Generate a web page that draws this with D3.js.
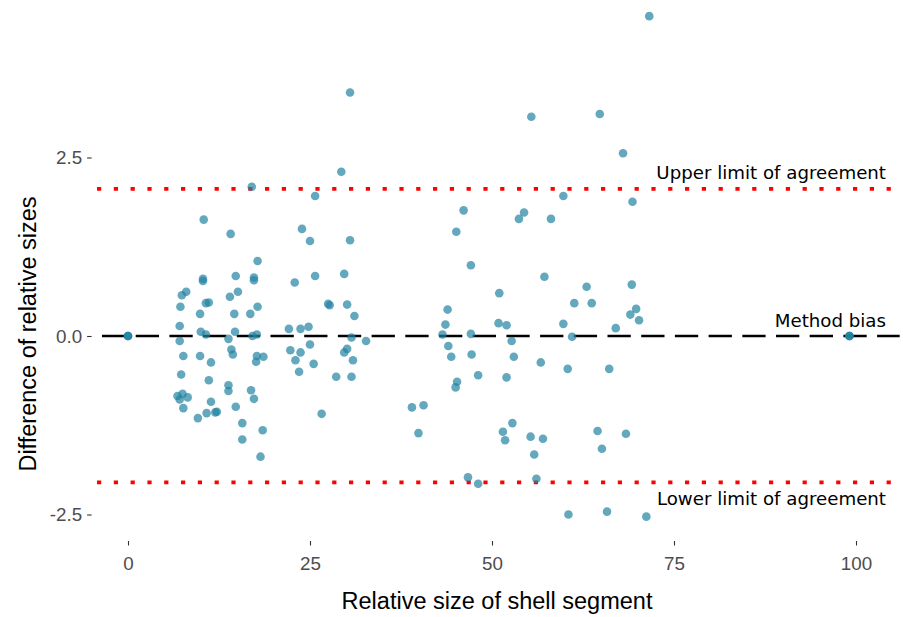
<!DOCTYPE html>
<html>
<head>
<meta charset="utf-8">
<script src="https://cdn.jsdelivr.net/npm/d3@7"></script>
<style>
  body { margin: 0; background: #fff; }
  svg { display: block; }
</style>
</head>
<body>
<svg id="chart" width="903" height="617"></svg>
<script>
// Relative size of shell segment (mean of two methods)
const xValues = [
  0, 0, 0,
  17.0, 10.4, 14.1, 17.8, 10.3, 10.3, 14.8, 17.3, 17.3, 22.9,
  8.0, 7.4, 14.0, 15.1, 7.2, 10.7, 11.1, 17.8, 9.9, 14.6, 16.8,
  7.1, 10.0, 10.7, 14.7, 17.1, 17.7, 13.8, 22.1, 23.7, 7.1,
  14.2, 14.4, 22.3, 7.6, 9.9, 11.4, 17.7, 18.6, 17.6, 23.0, 23.7, 23.5,
  7.3, 11.1, 13.8, 13.8, 16.9, 17.3, 6.8, 7.5, 7.1, 8.2, 7.6, 11.4,
  9.6, 10.8, 12.0, 12.2, 14.8, 15.7, 18.5, 15.7, 18.2,
  29.3, 25.7, 23.9, 25.0, 30.5, 25.7, 29.7, 27.5, 27.7, 30.1, 31.1, 24.8,
  30.7, 32.7, 25.0, 25.5, 29.7, 30.1, 30.9, 28.6, 30.7, 26.6, 30.5,
  55.4, 59.8, 46.1, 54.4, 53.7, 58.1, 45.1, 47.1, 57.2, 51.0, 61.3, 43.9,
  43.6, 50.9, 52.0, 59.8, 43.2, 47.1, 61.0, 44.0, 52.7,
  44.4, 47.2, 53.0, 56.7, 60.4, 48.1, 52.0, 45.2, 45.0,
  39.0, 40.6, 39.9, 52.8, 51.5, 51.8, 55.3, 57.0, 55.8,
  46.7, 48.1, 56.1, 60.5,
  71.6, 64.8, 68.0, 69.3, 63.0, 63.7, 69.2, 69.8, 69.0, 70.2, 67.0,
  66.1, 64.5, 68.4, 65.1, 65.8, 71.2,
  99.1, 99.1, 99.1
];
// Difference of relative sizes
const yValues = [
  0, 0, 0,
  2.09, 1.63, 1.43, 1.05, 0.80, 0.77, 0.84, 0.82, 0.78, 0.75,
  0.62, 0.57, 0.55, 0.62, 0.41, 0.46, 0.47, 0.41, 0.31, 0.31, 0.31,
  0.14, 0.06, 0.02, 0.06, 0.00, 0.02, -0.04, 0.10, 0.10, -0.07,
  -0.19, -0.26, -0.20, -0.28, -0.28, -0.37, -0.28, -0.29, -0.36, -0.34, -0.23, -0.50,
  -0.54, -0.62, -0.69, -0.77, -0.76, -0.88, -0.84, -0.81, -0.89, -0.86, -1.01, -0.92,
  -1.15, -1.08, -1.07, -1.06, -0.99, -1.22, -1.32, -1.45, -1.69,
  2.30, 1.96, 1.50, 1.33, 1.34, 0.84, 0.87, 0.45, 0.43, 0.44, 0.28, 0.13,
  -0.02, -0.07, -0.12, -0.39, -0.23, -0.18, -0.34, -0.57, -0.57, -1.09, 3.41,
  3.07, 1.96, 1.76, 1.73, 1.64, 1.64, 1.46, 0.99, 0.83, 0.60, 0.46, 0.37,
  0.16, 0.18, 0.15, 0.17, 0.02, 0.03, -0.01, -0.14, -0.07,
  -0.29, -0.26, -0.29, -0.37, -0.46, -0.55, -0.58, -0.64, -0.72,
  -1.00, -0.97, -1.36, -1.22, -1.34, -1.46, -1.41, -1.44, -1.66,
  -1.98, -2.07, -2.00, -2.50,
  4.48, 3.11, 2.56, 1.88, 0.69, 0.46, 0.72, 0.38, 0.30, 0.22, 0.11,
  -0.46, -1.33, -1.37, -1.58, -2.46, -2.53,
  0, 0, 0
];
const xTicks = [0, 25, 50, 75, 100];
const yTicks = [-2.5, 0, 2.5];
const yTickLabels = ["-2.5", "0.0", "2.5"];
const refNames = ["Upper limit of agreement", "Method bias", "Lower limit of agreement"];
const refValues = [2.06, 0, -2.05];

const points = xValues.map((x, i) => ({ x, y: yValues[i] }));

const svg = d3.select("#chart");
const x = d3.scaleLinear().domain([0, 100]).range([128, 856]);
const y = d3.scaleLinear().domain([-2.5, 2.5]).range([514.5, 157.5]);

const panelLeft = x(-5), panelRight = x(106);
const panelBottom = 541;

// Reference lines
const refG = svg.append("g");
refValues.forEach((v, i) => {
  const isBias = i === 1;
  refG.append("line")
    .attr("x1", panelLeft).attr("x2", panelRight)
    .attr("y1", y(v)).attr("y2", y(v))
    .attr("stroke", isBias ? "#000" : "#ff0000")
    .attr("stroke-width", isBias ? 2.6 : 3.6)
    .attr("stroke-dasharray", isBias ? "23.3,10.4" : "4.2,12.6")
    .attr("stroke-dashoffset", isBias ? 23.3 : 11.4);
});

// Points
svg.append("g").selectAll("circle")
  .data(points)
  .join("circle")
  .attr("cx", d => x(d.x))
  .attr("cy", d => y(d.y))
  .attr("r", 4.3)
  .attr("fill", "rgb(34,131,162)")
  .attr("fill-opacity", 0.7);

// Annotations
const annG = svg.append("g")
  .attr("font-family", "'DejaVu Sans', Verdana, sans-serif")
  .attr("font-size", 18.2)
  .attr("fill", "#000")
  .attr("text-anchor", "end");
const annOffsets = [-10, -9, 23];
refValues.forEach((v, i) => {
  annG.append("text")
    .attr("x", 886)
    .attr("y", y(v) + annOffsets[i])
    .text(refNames[i]);
});

// X axis
const xAxis = d3.axisBottom(x).tickValues(xTicks).tickSize(4.5).tickPadding(11).tickFormat(d3.format("d"));
const gx = svg.append("g").attr("transform", `translate(0,${panelBottom})`).call(xAxis);
gx.select(".domain").remove();
gx.selectAll(".tick line").attr("stroke", "#333").attr("stroke-width", 1.1);
gx.selectAll(".tick text")
  .attr("fill", "#4d4d4d")
  .attr("font-family", "'Liberation Sans', Arial, sans-serif")
  .attr("font-size", 18.8)
  .attr("dy", "0.71em");

// Y axis
const yAxis = d3.axisLeft(y).tickValues(yTicks).tickSize(4.5).tickPadding(5)
  .tickFormat((d, i) => yTickLabels[i]);
const gy = svg.append("g").attr("transform", `translate(${panelLeft},0)`).call(yAxis);
gy.select(".domain").remove();
gy.selectAll(".tick line").attr("stroke", "#333").attr("stroke-width", 1.1);
gy.selectAll(".tick text")
  .attr("fill", "#4d4d4d")
  .attr("font-family", "'Liberation Sans', Arial, sans-serif")
  .attr("font-size", 18.8);

// Axis titles
svg.append("text")
  .attr("x", 497).attr("y", 609)
  .attr("text-anchor", "middle")
  .attr("font-family", "'Liberation Sans', Arial, sans-serif")
  .attr("font-size", 23.5)
  .attr("fill", "#000")
  .text("Relative size of shell segment");

svg.append("text")
  .attr("transform", "translate(36,334) rotate(-90)")
  .attr("text-anchor", "middle")
  .attr("font-family", "'Liberation Sans', Arial, sans-serif")
  .attr("font-size", 23.5)
  .attr("fill", "#000")
  .text("Difference of relative sizes");
</script>
</body>
</html>
